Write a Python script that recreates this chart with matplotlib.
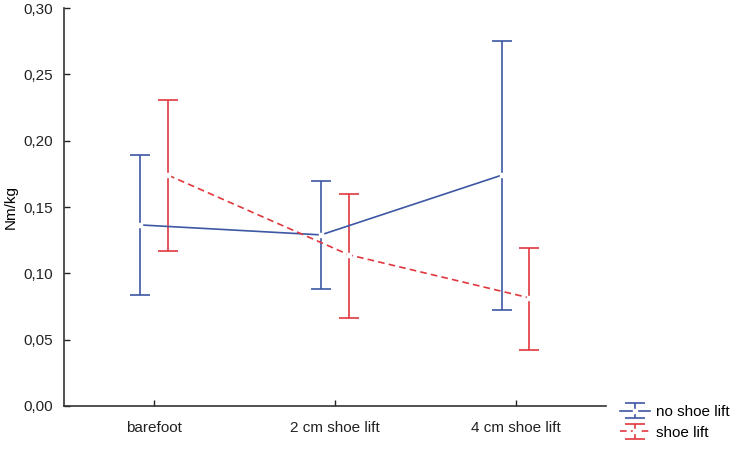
import numpy as np
import matplotlib.pyplot as plt
from matplotlib.ticker import FuncFormatter

plt.rcParams['font.family'] = ['Liberation Sans', 'DejaVu Sans']

categories = ["barefoot", "2 cm shoe lift", "4 cm shoe lift"]
series = ["no shoe lift", "shoe lift"]
# means and lower / upper bounds of the error bars (Nm/kg)
no_lift_mean = [0.1365, 0.129, 0.174]
no_lift_low = [0.084, 0.088, 0.072]
no_lift_high = [0.189, 0.170, 0.275]
lift_mean = [0.174, 0.114, 0.0815]
lift_low = [0.117, 0.066, 0.042]
lift_high = [0.231, 0.160, 0.119]

blue = "#3d57a3"
red = "#e0383e"

fig = plt.figure(figsize=(7.37, 4.49), dpi=100)
ax = fig.add_axes([0.0868, 0.0958, 0.822 - 0.0868, 0.982 - 0.0958])

x = np.arange(len(categories))
off = 0.077

def draw(xs, mean, low, high, color, ls, label):
    mean = np.array(mean)
    err = [mean - np.array(low), np.array(high) - mean]
    return ax.errorbar(xs, mean, yerr=err, color=color, ls=ls, lw=1.2,
                       elinewidth=1.2, capsize=7, capthick=1.2,
                       marker="s", ms=3, mfc="white", mec="white",
                       label=label, dashes=(4, 2.5) if ls == "--" else (None, None))

h1 = draw(x - off, no_lift_mean, no_lift_low, no_lift_high, blue, "-", series[0])
h2 = draw(x + off, lift_mean, lift_low, lift_high, red, "--", series[1])

ax.set_xlim(-0.5, 2.5)
ax.set_ylim(0, 0.30)
ax.set_xticks(x)
ax.set_xticklabels(categories)
ax.set_yticks(np.arange(0, 0.31, 0.05))
ax.yaxis.set_major_formatter(FuncFormatter(lambda v, p: f"{v:.2f}".replace(".", ",")))
ax.tick_params(direction="in", length=4, width=1, labelsize=11, colors="#222222")
ax.tick_params(axis="x", pad=11)
ax.tick_params(axis="y", pad=8)
ax.set_ylabel("Nm/kg", fontsize=11, labelpad=4)
for s in ["top", "right"]:
    ax.spines[s].set_visible(False)
for s in ["left", "bottom"]:
    ax.spines[s].set_color("#333333")
    ax.spines[s].set_linewidth(1.2)

fig.legend(handles=[h1, h2], labels=series, loc="lower left",
           bbox_to_anchor=(0.822, -0.01), frameon=False, fontsize=11,
           handlelength=2.0, handletextpad=0.4, labelspacing=0.45)

fig.savefig("out.png", dpi=100)
